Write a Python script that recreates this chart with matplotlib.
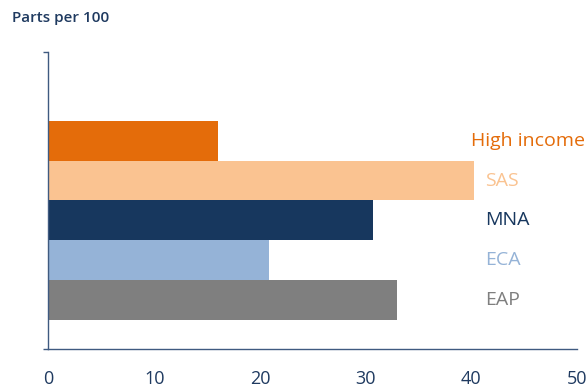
import numpy as np
import matplotlib.pyplot as plt

# data (bottom to top)
regions = ['EAP', 'ECA', 'MNA', 'SAS', 'High income']
values = [33.0, 20.9, 30.7, 40.3, 16.0]
colors = ['#7F7F7F', '#95B3D7', '#17375E', '#FAC391', '#E46C0A']
label_colors = ['#7F7F7F', '#95B3D7', '#17375E', '#FAC391', '#E46C0A']
xticks = [0, 10, 20, 30, 40, 50]

plt.rcParams['font.family'] = ['Open Sans', 'DejaVu Sans']
axis_col = '#3F5A80'
text_col = '#1F3A60'

fig = plt.figure(figsize=(5.87, 3.90), dpi=100)
ax = fig.add_axes([0.0826, 0.105, 0.9004, 0.7625])

y = np.arange(len(regions))
ax.barh(y, values, height=1.0, color=colors)

ax.set_xlim(0, 50)
ax.set_ylim(-1.225, 6.23)

for s in ['top', 'right']:
    ax.spines[s].set_visible(False)
ax.spines['left'].set_color(axis_col)
ax.spines['bottom'].set_color(axis_col)
ax.spines['left'].set_linewidth(1.0)
ax.spines['bottom'].set_linewidth(1.0)

ax.set_xticks(xticks)
ax.tick_params(axis='x', length=0, pad=15, labelsize=13, labelcolor=text_col)
ax.set_yticks([-1.225, 6.23])
ax.set_yticklabels([])
ax.tick_params(axis='y', length=3.5, color=axis_col, width=1.0)

for i, (r, c) in enumerate(zip(regions, label_colors)):
    if r == 'High income':
        ax.text(50.75, i, r, color=c, fontsize=14, ha='right', va='center', clip_on=False)
    else:
        ax.text(41.3, i, r, color=c, fontsize=14, ha='left', va='center', clip_on=False)

fig.text(12 / 587, 1 - 18 / 390, 'Parts per 100', fontsize=11, fontweight='semibold',
         color=text_col, ha='left', va='center')

fig.savefig('out.png', dpi=100)
